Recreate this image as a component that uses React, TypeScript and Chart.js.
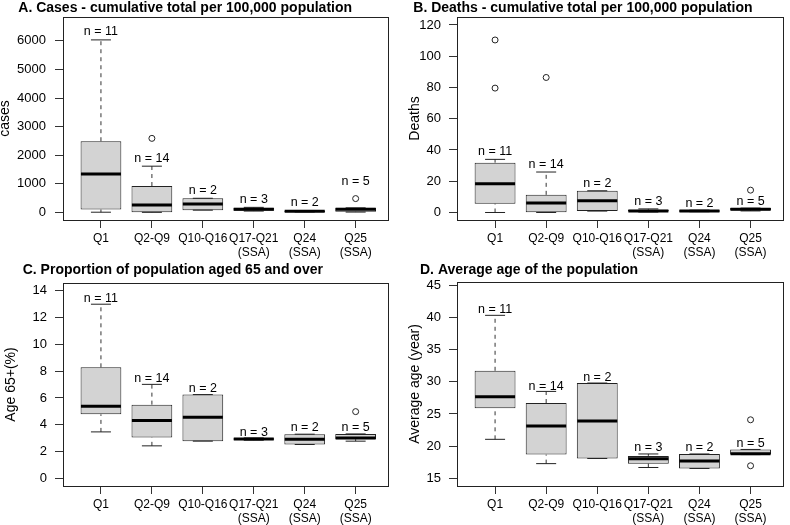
import React, { useEffect, useRef } from "react";
import { Chart, registerables } from "chart.js";

Chart.register(...registerables);

const FONT = "'Liberation Sans', Arial, Helvetica, sans-serif";

const categories: string[][] = [["Q1"], ["Q2-Q9"], ["Q10-Q16"], ["Q17-Q21", "(SSA)"], ["Q24", "(SSA)"], ["Q25", "(SSA)"]];
const groupSizes = [11, 14, 2, 3, 2, 5];
const xRange = [0.255, 6.635];

// A. Cases
const casesMin = [10, 5, 81, 50, 20, 15];
const casesQ1 = [104, 12, 81, 60, 20, 25];
const casesMedian = [1341, 266, 300, 116, 45, 116];
const casesQ3 = [2490, 925, 497, 170, 70, 162];
const casesMax = [6030, 1618, 497, 180, 70, 162];
const casesOutlierCat = [2, 6];
const casesOutlierVal = [2590, 486];
const casesLabelAt = [6324, 1900, 769, 444, 349, 1083];
const casesTicks = [0, 1000, 2000, 3000, 4000, 5000, 6000];
const casesRange = [-262, 6830];

// B. Deaths
const deathsMin = [0, 0, 0.9, 0.3, 0.5, 1.0];
const deathsQ1 = [5.6, 0.1, 0.9, 0.6, 0.5, 1.3];
const deathsMedian = [18.4, 6.0, 7.5, 1.0, 1.0, 2.1];
const deathsQ3 = [31.9, 11.3, 13.9, 1.8, 1.5, 2.8];
const deathsMax = [34.0, 25.9, 13.9, 2.3, 1.5, 2.8];
const deathsOutlierCat = [1, 1, 2, 6];
const deathsOutlierVal = [79.6, 110.4, 86.4, 14.3];
const deathsLabelAt = [39.0, 30.4, 18.7, 6.7, 5.9, 6.9];
const deathsTicks = [0, 20, 40, 60, 80, 100, 120];
const deathsRange = [-4.8, 125.1];

// C. Age 65+
const age65Min = [3.47, 2.43, 2.78, 2.85, 2.53, 2.78];
const age65Q1 = [4.78, 3.05, 2.78, 2.88, 2.53, 2.92];
const age65Median = [5.38, 4.31, 4.56, 2.95, 2.92, 3.02];
const age65Q3 = [8.28, 5.5, 6.25, 3.0, 3.3, 3.32];
const age65Max = [12.98, 7.01, 6.25, 3.02, 3.3, 3.32];
const age65OutlierCat = [6];
const age65OutlierVal = [4.98];
const age65LabelAt = [13.42, 7.42, 6.73, 3.41, 3.78, 3.78];
const age65Ticks = [0, 2, 4, 6, 8, 10, 12, 14];
const age65Range = [-0.56, 14.56];

// D. Average age
const avgAgeMin = [21.07, 17.3, 18.1, 16.7, 16.55, 18.7];
const avgAgeQ1 = [25.9, 18.7, 18.1, 17.3, 16.55, 18.7];
const avgAgeMedian = [27.67, 23.15, 23.9, 18.06, 17.7, 18.85];
const avgAgeQ3 = [31.7, 26.7, 29.8, 18.5, 18.8, 19.5];
const avgAgeMax = [40.3, 28.5, 29.8, 18.8, 18.8, 19.5];
const avgAgeOutlierCat = [6, 6];
const avgAgeOutlierVal = [24.1, 16.97];
const avgAgeLabelAt = [41.17, 29.3, 30.7, 19.8, 19.8, 20.4];
const avgAgeTicks = [15, 20, 25, 30, 35, 40, 45];
const avgAgeRange = [13.83, 45.47];

type Layout = {
  left: number; top: number; h: number;
  padLeft: number; yWidth: number; padTop: number; padRight: number; xHeight: number;
  titleX: number; titleY: number; yTickPad: number;
};

type Panel = {
  key: string; title: string; yTitle: string;
  min: number[]; q1: number[]; med: number[]; q3: number[]; max: number[];
  outCat: number[]; outVal: number[]; labelAt: number[]; ticks: number[]; range: number[];
  layout: Layout;
};

const panels: Panel[] = [
  {
    key: "A", title: "A. Cases - cumulative total per 100,000 population", yTitle: "cases",
    min: casesMin, q1: casesQ1, med: casesMedian, q3: casesQ3, max: casesMax,
    outCat: casesOutlierCat, outVal: casesOutlierVal, labelAt: casesLabelAt, ticks: casesTicks, range: casesRange,
    layout: { left: 0, top: 0, h: 262, padLeft: 0, yWidth: 63, padTop: 17, padRight: 7, xHeight: 42, titleX: 18.3, titleY: 7.8, yTickPad: 9 },
  },
  {
    key: "B", title: "B. Deaths - cumulative total per 100,000 population", yTitle: "Deaths",
    min: deathsMin, q1: deathsQ1, med: deathsMedian, q3: deathsQ3, max: deathsMax,
    outCat: deathsOutlierCat, outVal: deathsOutlierVal, labelAt: deathsLabelAt, ticks: deathsTicks, range: deathsRange,
    layout: { left: 395, top: 0, h: 262, padLeft: 15, yWidth: 47, padTop: 17, padRight: 7, xHeight: 42, titleX: 18.3, titleY: 7.8, yTickPad: 8 },
  },
  {
    key: "C", title: "C. Proportion of population aged 65 and over", yTitle: "Age 65+(%)",
    min: age65Min, q1: age65Q1, med: age65Median, q3: age65Q3, max: age65Max,
    outCat: age65OutlierCat, outVal: age65OutlierVal, labelAt: age65LabelAt, ticks: age65Ticks, range: age65Range,
    layout: { left: 0, top: 262, h: 263, padLeft: 6, yWidth: 57, padTop: 21, padRight: 7, xHeight: 39, titleX: 22.7, titleY: 7.8, yTickPad: 8 },
  },
  {
    key: "D", title: "D. Average age of the population", yTitle: "Average age (year)",
    min: avgAgeMin, q1: avgAgeQ1, med: avgAgeMedian, q3: avgAgeQ3, max: avgAgeMax,
    outCat: avgAgeOutlierCat, outVal: avgAgeOutlierVal, labelAt: avgAgeLabelAt, ticks: avgAgeTicks, range: avgAgeRange,
    layout: { left: 395, top: 262, h: 263, padLeft: 15, yWidth: 47, padTop: 20, padRight: 7, xHeight: 39, titleX: 25, titleY: 7.8, yTickPad: 8 },
  },
];

function BoxPanel({ panel }: { panel: Panel }) {
  const ref = useRef<HTMLCanvasElement>(null);
  const L = panel.layout;

  useEffect(() => {
    const p = panel;
    const xs = categories.map((_, i) => i + 1);
    const whiskers: any[] = [];
    const caps: any[] = [];
    xs.forEach((x, i) => {
      whiskers.push({ x, y: p.min[i] }, { x, y: p.q1[i] }, { x, y: null },
        { x, y: p.q3[i] }, { x, y: p.max[i] }, { x, y: null });
      caps.push({ x, y: p.min[i] }, { x, y: p.max[i] });
    });
    const medians = xs.map((x, i) => ({ x, y: p.med[i] }));
    const outliers = p.outCat.map((c, i) => ({ x: c, y: p.outVal[i] }));

    const deco = {
      id: "deco" + p.key,
      afterDatasetsDraw(chart: any) {
        const { ctx, chartArea: a, scales } = chart;
        ctx.save();
        ctx.strokeStyle = "#222";
        ctx.lineWidth = 1;
        ctx.strokeRect(Math.round(a.left) + 0.5, Math.round(a.top) + 0.5,
          Math.round(a.right - a.left), Math.round(a.bottom - a.top));
        ctx.fillStyle = "#000";
        ctx.font = `12.5px ${FONT}`;
        ctx.textAlign = "center";
        ctx.textBaseline = "middle";
        groupSizes.forEach((n, i) => {
          ctx.fillText(`n = ${n}`, scales.x.getPixelForValue(i + 1), scales.y.getPixelForValue(p.labelAt[i]));
        });
        ctx.font = `bold 14px ${FONT}`;
        ctx.textAlign = "left";
        ctx.fillText(p.title, L.titleX, L.titleY);
        ctx.restore();
      },
    };

    const gridOpts = {
      display: true, drawOnChartArea: false, drawTicks: true, tickLength: 8,
      color: "#333", lineWidth: 1, offset: false,
    };

    const chart = new Chart(ref.current as HTMLCanvasElement, {
      type: "bar",
      data: {
        datasets: [
          {
            type: "line", data: whiskers, borderColor: "#333", borderWidth: 1, borderDash: [4, 4],
            pointRadius: 0, spanGaps: false, fill: false, order: 5,
          } as any,
          {
            type: "bar", data: xs.map((x, i) => ({ x, y: [p.q1[i], p.q3[i]] })),
            backgroundColor: "#d3d3d3", borderColor: "#222", borderWidth: 1, borderSkipped: false,
            categoryPercentage: 1, barPercentage: 0.8, order: 4,
          } as any,
          {
            type: "scatter", data: caps, pointStyle: "line", pointRadius: 10, pointBorderWidth: 1,
            pointBorderColor: "#222", borderColor: "#222", order: 3,
          } as any,
          {
            type: "scatter", data: medians, pointStyle: "line", pointRadius: 20, pointBorderWidth: 3,
            pointBorderColor: "#000", borderColor: "#000", order: 2,
          } as any,
          {
            type: "scatter", data: outliers, pointStyle: "circle", pointRadius: 3, pointBorderWidth: 1,
            pointBorderColor: "#222", pointBackgroundColor: "rgba(255,255,255,0)", borderColor: "#222", order: 1,
          } as any,
        ],
      },
      options: {
        responsive: false,
        animation: false,
        devicePixelRatio: 1,
        events: [],
        layout: { autoPadding: false, padding: { left: L.padLeft, top: L.padTop, right: L.padRight, bottom: 0 } },
        plugins: { legend: { display: false }, tooltip: { enabled: false } },
        scales: {
          x: {
            type: "linear", min: xRange[0], max: xRange[1], offset: false, bounds: "data",
            afterBuildTicks: (s: any) => { s.ticks = xs.map((v) => ({ value: v })); },
            afterFit: (s: any) => { s.height = L.xHeight; s.paddingLeft = 0; s.paddingRight = 0; },
            grid: gridOpts,
            border: { display: false },
            ticks: {
              autoSkip: false, maxRotation: 0, minRotation: 0, padding: 4, color: "#000",
              font: { family: FONT, size: 12, lineHeight: 1.17 },
              callback: (v: any) => categories[Math.round(Number(v)) - 1] ?? "",
            },
          },
          y: {
            type: "linear", min: p.range[0], max: p.range[1], bounds: "data",
            afterBuildTicks: (s: any) => { s.ticks = p.ticks.map((v) => ({ value: v })); },
            afterFit: (s: any) => { s.width = L.yWidth; s.paddingTop = 0; s.paddingBottom = 0; },
            grid: gridOpts,
            border: { display: false },
            ticks: {
              padding: L.yTickPad, color: "#000", font: { family: FONT, size: 13 },
              callback: (v: any) => String(v),
            },
            title: {
              display: true, text: p.yTitle, color: "#000",
              font: { family: FONT, size: 14, lineHeight: 0.8 }, padding: { top: 0, bottom: 0 },
            },
          },
        },
      } as any,
      plugins: [deco],
    });
    return () => chart.destroy();
  }, []);

  return (
    <canvas
      ref={ref}
      width={395}
      height={L.h}
      style={{ position: "absolute", left: L.left, top: L.top, width: 395, height: L.h, display: "block" }}
    />
  );
}

export default function App() {
  return (
    <div style={{ position: "absolute", left: 0, top: 0, width: 790, height: 525, background: "#fff", overflow: "hidden" }}>
      {panels.map((p) => (
        <BoxPanel key={p.key} panel={p} />
      ))}
    </div>
  );
}
